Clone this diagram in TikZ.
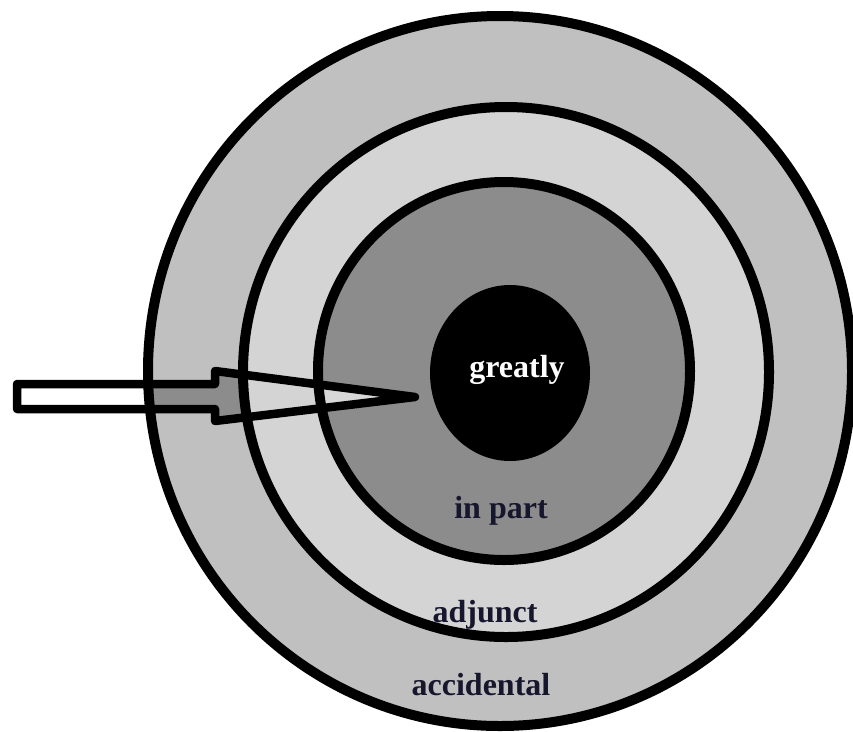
\documentclass[tikz,border=0pt]{standalone}
\usepackage{fontspec}
\setmainfont{Liberation Serif}
\definecolor{ringA}{RGB}{192,192,192}
\definecolor{ringB}{RGB}{212,212,212}
\definecolor{ringC}{RGB}{140,140,140}
\definecolor{arrowin}{RGB}{216,216,216}
\definecolor{ink}{RGB}{22,22,45}
\begin{document}
\begin{tikzpicture}[x=1pt,y=-1pt,
  ringline/.style={line width=10pt},
  arrowline/.style={line width=8.5pt, line join=round},
  lbl/.style={font=\fontsize{32}{36}\selectfont\bfseries, text=ink, anchor=base, inner sep=0pt}]
\useasboundingbox (0,0) rectangle (853,731);
\clip (0,0) rectangle (853,731);
% ring fills
\fill[ringA] (500,371) ellipse [x radius=352, y radius=355];
\fill[ringB] (506,372) ellipse [x radius=263, y radius=265];
\fill[ringC] (504,371) ellipse [x radius=186, y radius=189];
\fill[black] (510,373) ellipse [x radius=80, y radius=88];
% arrow interior
\begin{scope}
  \clip (17,384) -- (215,384) -- (215,371) -- (415,397) -- (215,421) -- (215,409) -- (17,409) -- cycle;
  \fill[white] (0,0) rectangle (853,731);
  \fill[ringC] (500,371) ellipse [x radius=352, y radius=355];
  \fill[ringB] (506,372) ellipse [x radius=263, y radius=265];
  \fill[arrowin] (504,371) ellipse [x radius=186, y radius=189];
\end{scope}
% ring outlines
\draw[ringline] (500,371) ellipse [x radius=352, y radius=355];
\draw[ringline] (506,372) ellipse [x radius=263, y radius=265];
\draw[ringline] (504,371) ellipse [x radius=186, y radius=189];
% arrow outline
\draw[arrowline] (17,384) -- (215,384) -- (215,371) -- (415,397) -- (215,421) -- (215,409) -- (17,409) -- cycle;
% labels
\node[lbl, text=white] (greatly) at (517,377) {greatly};
\node[lbl] (inpart) at (501,518) {in part};
\node[lbl] (adjunct) at (485,622) {adjunct};
\node[lbl] (accidental) at (481,695) {accidental};
\end{tikzpicture}
\end{document}
